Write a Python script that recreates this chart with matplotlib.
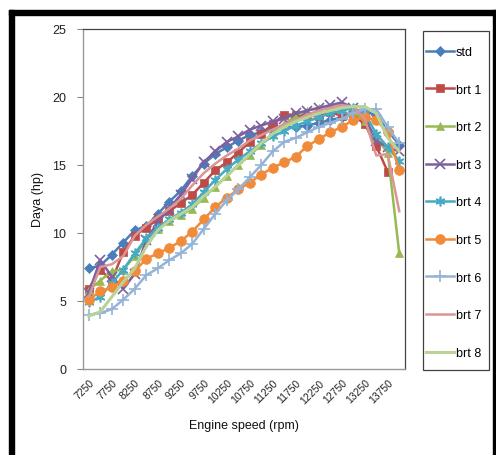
import matplotlib
matplotlib.use("Agg")
import matplotlib.pyplot as plt
from matplotlib.patches import Rectangle
import numpy as np

plt.rcParams['font.family'] = ['Liberation Sans', 'DejaVu Sans']

rpm = [7250, 7500, 7750, 8000, 8250, 8500, 8750, 9000, 9250, 9500, 9750, 10000,
       10250, 10500, 10750, 11000, 11250, 11500, 11750, 12000, 12250, 12500,
       12750, 13000, 13250, 13500, 13750, 14000]

std = [7.4, 7.6, 8.4, 9.3, 10.2, 10.5, 11.4, 12.3, 13.1, 14.2, 15.1, 15.8, 16.3, 16.8,
       17.2, 17.4, 17.6, 17.8, 17.8, 17.9, 18.1, 18.3, 18.5, 18.7, 18.9, 18.7, 17.5, 16.5]
brt1 = [5.9, 7.3, 6.5, 8.6, 9.8, 10.4, 11.0, 11.6, 12.2, 12.8, 13.7, 14.6, 15.2, 15.9,
        16.7, 17.3, 18.0, 18.7, 18.7, 18.6, 18.6, 18.9, 18.6, 18.7, 18.0, 16.4, 14.5, np.nan]
brt2 = [5.8, 6.5, 7.2, 7.3, 8.3, 9.5, 10.3, 10.9, 11.3, 11.8, 12.6, 13.4, 14.2, 15.0,
        15.7, 16.5, 17.3, 18.0, 18.6, 19.0, 19.2, 19.3, 19.3, 19.0, 18.2, 17.0, 15.9, 8.5]
brt3 = [5.6, 8.0, 6.8, 5.9, 7.0, 9.5, 10.8, 11.8, 12.8, 14.0, 15.2, 16.0, 16.7, 17.1,
        17.6, 17.9, 18.2, 18.4, 18.8, 19.0, 19.2, 19.4, 19.6, 19.2, 18.5, 16.8, 16.3, 16.0]
brt4 = [4.9, 5.3, 6.3, 7.3, 8.5, 9.6, 10.4, 11.0, 11.5, 12.1, 13.0, 13.9, 14.7, 15.4,
        16.0, 16.6, 17.1, 17.5, 17.9, 18.2, 18.5, 18.8, 19.0, 19.2, 18.8, 17.3, 16.3, 15.3]
brt5 = [5.1, 5.7, 6.0, 6.5, 7.2, 8.1, 8.5, 8.9, 9.4, 10.1, 11.0, 11.9, 12.6, 13.2,
        13.7, 14.3, 14.8, 15.2, 15.6, 16.4, 16.9, 17.4, 17.8, 18.3, 18.5, 18.3, 17.4, 14.6]
brt6 = [4.0, 4.1, 4.4, 5.1, 5.9, 6.9, 7.4, 8.0, 8.5, 9.2, 10.3, 11.4, 12.4, 13.2,
        14.1, 15.0, 16.0, 16.7, 17.0, 17.4, 17.8, 18.1, 18.4, 18.8, 19.1, 19.1, 17.8, 16.6]
brt7 = [5.3, 7.5, 7.7, 8.3, 9.8, 10.6, 11.2, 11.8, 12.5, 13.5, 14.4, 15.1, 15.7, 16.2,
        16.8, 17.2, 17.6, 18.0, 18.3, 18.7, 19.0, 19.2, 19.4, 19.3, 18.4, 15.7, 15.8, 11.6]
brt8 = [3.9, 4.2, 5.3, 6.4, 7.4, 9.0, 10.2, 10.9, 11.4, 11.9, 12.7, 13.4, 14.2, 15.0,
        15.8, 16.6, 17.3, 17.8, 18.2, 18.5, 18.8, 19.0, 19.2, 19.3, 19.3, 18.8, 17.0, 16.0]

names = ["std", "brt 1", "brt 2", "brt 3", "brt 4", "brt 5", "brt 6", "brt 7", "brt 8"]
series = [std, brt1, brt2, brt3, brt4, brt5, brt6, brt7, brt8]
colors = ["#4A7EBB", "#BE4B48", "#98B954", "#7D60A0", "#46AAC5", "#F18B3A",
          "#95B3D7", "#D99694", "#B9D396"]
markers = ["D", "s", "^", "x", (6, 2, 0), "o", "+", None, None]
msizes = [5, 6, 6, 7, 7, 7, 8, 0, 0]

fig = plt.figure(figsize=(4.96, 4.56), dpi=100)
ax = fig.add_axes([83/496, 1-370/456, 322/496, 340/456])

x = np.arange(len(rpm))
for name, vals, c, m, ms in zip(names, series, colors, markers, msizes):
    lw = 2.2 if name == "brt 8" else 1.8
    ax.plot(x, vals, color=c, lw=lw, marker=m, markersize=ms,
            markeredgewidth=1.2 if m in ("x", "+", (6, 2, 0)) else 0.5,
            markeredgecolor=c, markerfacecolor=c, label=name)

ax.set_xlim(-0.5, len(rpm) - 0.5)
ax.set_ylim(0, 25)
ax.set_yticks([0, 5, 10, 15, 20, 25])
ax.set_xticks(x[::2])
ax.set_xticklabels([str(r) for r in rpm[::2]], rotation=45, ha='right',
                   rotation_mode='anchor', fontsize=7.5, color='#222222')
ax.tick_params(axis='x', length=0, pad=6)
ax.tick_params(axis='y', length=4, width=0.8, color='#888888', labelsize=9,
               labelcolor='#222222', pad=8)
for s in ['left', 'bottom']:
    ax.spines[s].set_color('#999999')
    ax.spines[s].set_linewidth(1.0)
for s in ['top', 'right']:
    ax.spines[s].set_color('#444444')
    ax.spines[s].set_linewidth(0.9)

ax.set_xlabel("Engine speed (rpm)", fontsize=9, labelpad=10, color='#111111')
ax.set_ylabel("Daya (hp)", fontsize=9, labelpad=6, color='#111111')

# legend frame
fig.patches.append(Rectangle((423/496, 1 - 371/456), 66/496, 339/456,
                             transform=fig.transFigure, facecolor='white',
                             edgecolor='#404040', linewidth=0.9, zorder=1))
leg = fig.legend(loc='upper left', bbox_to_anchor=(426/496, 1-47/456),
                 fontsize=9, frameon=False, borderpad=0.0,
                 labelspacing=2.05, handlelength=2.2, handletextpad=0.2,
                 borderaxespad=0.0)
leg.set_zorder(5)

# black frame
fig.patches.append(Rectangle((9/496, 0), 5/496, 1 - 11/456, transform=fig.transFigure,
                             color='black', zorder=10))
fig.patches.append(Rectangle((9/496, 1 - 16/456), 1 - 9/496, 5/456,
                             transform=fig.transFigure, color='black', zorder=10))
fig.patches.append(Rectangle((493/496, 0), 3/496, 1 - 11/456, transform=fig.transFigure,
                             color='black', zorder=10))

fig.savefig("out.png", dpi=100)
